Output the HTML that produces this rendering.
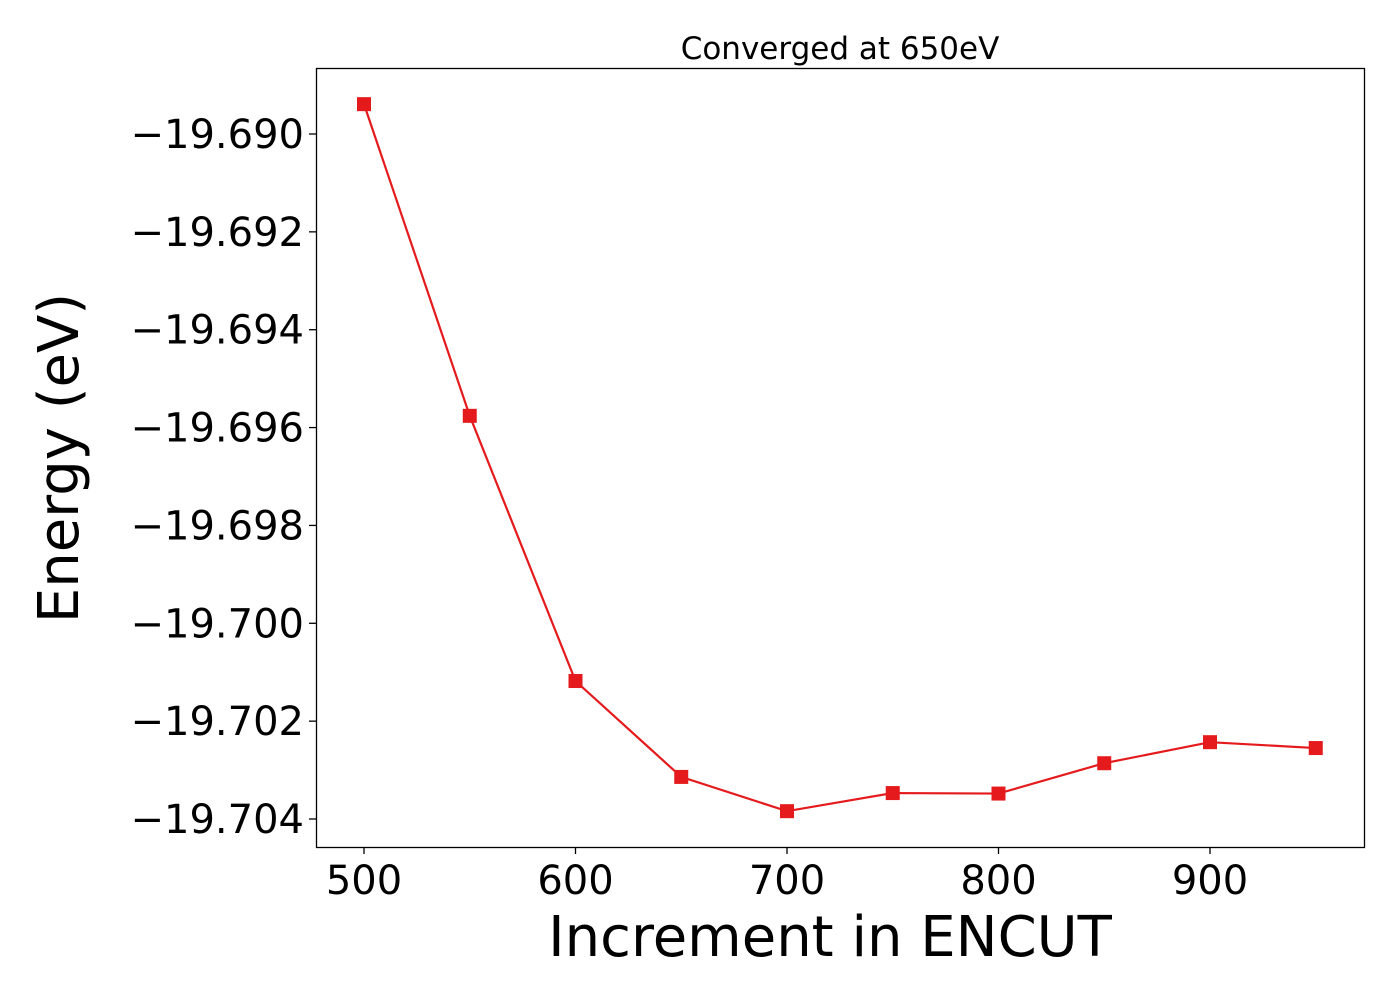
<!DOCTYPE html>
<html><head><meta charset="utf-8"><style>body{margin:0;background:#fff}svg{display:block}text{font-family:"DejaVu Sans","Liberation Sans",sans-serif;fill:#000}</style></head>
<body>
<svg id="chart" width="1400" height="1000">
<rect x="0" y="0" width="1400" height="1000" fill="#fff"/>
<text x="840" y="59" font-size="31" text-anchor="middle">Converged at 650eV</text>
<g id="xt"></g>
<g id="yt"></g>
<g id="series"></g>
<rect x="316.5" y="68.5" width="1048" height="779" fill="none" stroke="#000" stroke-width="1.3"/>
<text x="830" y="956" font-size="56" text-anchor="middle">Increment in ENCUT</text>
<text transform="translate(78,458) rotate(-90)" font-size="56" text-anchor="middle">Energy (eV)</text>
</svg>
<script>
const encut = [500,550,600,650,700,750,800,850,900,950];
const energy = [-19.68939,-19.69576,-19.70118,-19.70314,-19.70384,-19.70347,-19.70348,-19.70286,-19.70243,-19.70255];
const xTicks = [500,600,700,800,900];
const yTicks = [-19.690,-19.692,-19.694,-19.696,-19.698,-19.700,-19.702,-19.704];
const NS='http://www.w3.org/2000/svg';
function X(v){return 364+(v-500)*(1210-364)/400;}
function Y(v){return 134+(-19.690-v)*(819-134)/0.014;}
function mk(t,a,p){const e=document.createElementNS(NS,t);for(const k in a)e.setAttribute(k,a[k]);p.appendChild(e);return e;}
const xt=document.getElementById('xt'),yt=document.getElementById('yt'),s=document.getElementById('series');
xTicks.forEach(v=>{
 const l=mk('line',{x1:X(v),x2:X(v),y1:847,y2:854,stroke:'#000','stroke-width':1.3},xt);
 
 
 const t=mk('text',{x:X(v),y:894,'font-size':40,'text-anchor':'middle'},xt);
 t.textContent=v;
 
 
});
yTicks.forEach(v=>{
 const l=mk('line',{x1:309,x2:316,y1:Y(v),y2:Y(v),stroke:'#000','stroke-width':1.3},yt);
 
 
 const t=mk('text',{x:304,y:Y(v)+14,'font-size':40,'text-anchor':'end'},yt);
 t.textContent='\u2212'+Math.abs(v).toFixed(3);
 
 
});
const pl=mk('polyline',{points:encut.map((v,i)=>X(v)+','+Y(energy[i])).join(' '),fill:'none',stroke:'#e41a1c','stroke-width':2.2},s);


encut.forEach((v,i)=>{
 const r=mk('rect',{x:X(v)-7,y:Y(energy[i])-7,width:14,height:14,fill:'#e41a1c'},s);
 
 
});
</script>
</body></html>
